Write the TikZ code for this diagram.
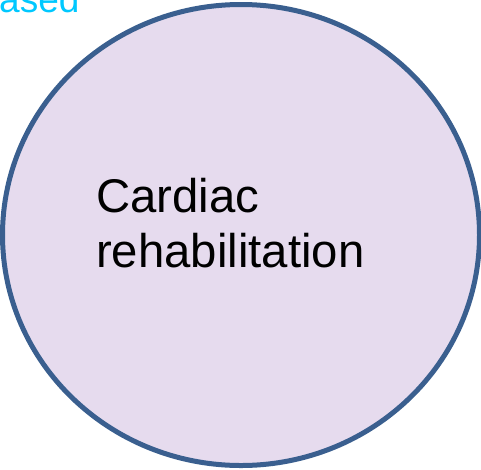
\documentclass[tikz,border=0pt]{standalone}
\usepackage{fontspec}
\setmainfont{Liberation Sans}
\definecolor{fillc}{HTML}{E6DBEE}
\definecolor{edgec}{HTML}{3A5F8F}
\definecolor{cyanc}{HTML}{00C8FF}
\tikzset{
  bubble/.style={draw=edgec, fill=fillc, line width=5pt},
  label/.style={inner sep=0pt, text=black, align=left, font=\fontsize{47.3}{55}\selectfont},
  cut/.style={inner sep=0pt, text=cyanc, font=\fontsize{37}{44}\selectfont}
}
\begin{document}
\begin{tikzpicture}[x=1pt,y=-1pt]
\useasboundingbox (0,0) rectangle (481,469);
\clip (0,0) rectangle (481,469);
\draw[bubble] (241,235) ellipse [x radius=238.5, y radius=230.5];
\node[label, anchor=base west] (t) at (96,267) {Cardiac\\rehabilitation};
\node[cut, anchor=base west] (c) at (-1,12) {ased};
\end{tikzpicture}
\end{document}
